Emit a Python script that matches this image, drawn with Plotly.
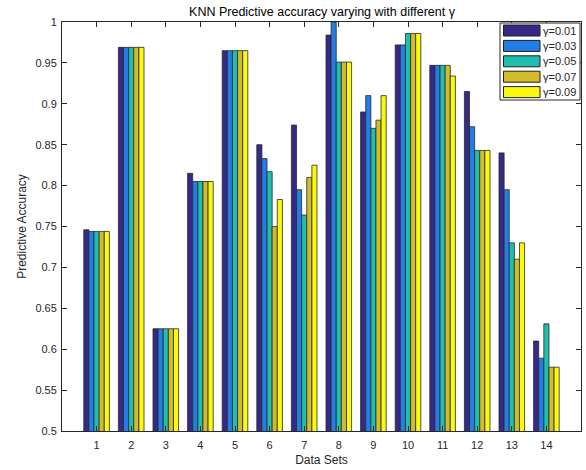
import plotly.graph_objects as go

datasets = [1, 2, 3, 4, 5, 6, 7, 8, 9, 10, 11, 12, 13, 14]
series_names = ["γ=0.01", "γ=0.03", "γ=0.05", "γ=0.07", "γ=0.09"]
acc_001 = [0.746, 0.969, 0.625, 0.815, 0.965, 0.850, 0.874, 0.984, 0.890, 0.972, 0.947, 0.915, 0.840, 0.610]
acc_003 = [0.744, 0.969, 0.625, 0.805, 0.965, 0.833, 0.795, 1.000, 0.910, 0.972, 0.947, 0.872, 0.795, 0.589]
acc_005 = [0.744, 0.969, 0.625, 0.805, 0.965, 0.817, 0.764, 0.951, 0.870, 0.986, 0.947, 0.843, 0.730, 0.631]
acc_007 = [0.744, 0.969, 0.625, 0.805, 0.965, 0.750, 0.810, 0.951, 0.880, 0.986, 0.947, 0.843, 0.710, 0.578]
acc_009 = [0.744, 0.969, 0.625, 0.805, 0.965, 0.783, 0.825, 0.951, 0.910, 0.986, 0.934, 0.843, 0.730, 0.578]
series_values = [acc_001, acc_003, acc_005, acc_007, acc_009]
colors = ["rgb(53,42,135)", "rgb(36,126,232)", "rgb(32,190,175)", "rgb(210,188,42)", "rgb(250,250,15)"]

y_ticks = [0.5, 0.55, 0.6, 0.65, 0.7, 0.75, 0.8, 0.85, 0.9, 0.95, 1.0]
y_ticktext = ["0.5", "0.55", "0.6", "0.65", "0.7", "0.75", "0.8", "0.85", "0.9", "0.95", "1"]

W, H = 586, 470
L, R, T, B = 62, 5, 22, 39
pw, ph = W - L - R, H - T - B
FONT = "Liberation Sans, Arial, sans-serif"
TXT = "rgb(38,38,38)"

fig = go.Figure()
for name, vals, c in zip(series_names, series_values, colors):
    fig.add_trace(go.Bar(x=datasets, y=vals, name=name, marker=dict(color=c, line=dict(color="rgb(40,40,40)", width=0.8)),
                         showlegend=False))

def px_x(px):
    return (px - L) / pw

def px_y(py):
    return (H - B - py) / ph

shapes = []
annotations = []
# legend box
shapes.append(dict(type="rect", xref="paper", yref="paper", x0=px_x(500), x1=px_x(580), y0=px_y(100), y1=px_y(23),
                   line=dict(color="rgb(38,38,38)", width=1), fillcolor="white", layer="above"))
for i, (name, c) in enumerate(zip(series_names, colors)):
    cy = 30.5 + i * 15.4
    shapes.append(dict(type="rect", xref="paper", yref="paper", x0=px_x(503.5), x1=px_x(540), y0=px_y(cy + 5.5), y1=px_y(cy - 5.5),
                       line=dict(color="rgb(30,30,30)", width=1), fillcolor=c, layer="above"))
    annotations.append(dict(text=name, xref="paper", yref="paper", x=px_x(541), y=px_y(cy), xanchor="left", yanchor="middle",
                            showarrow=False, font=dict(size=11, family=FONT, color=TXT)))

fig.update_layout(
    width=W, height=H,
    margin=dict(l=L, r=R, t=T, b=B),
    paper_bgcolor="white", plot_bgcolor="white",
    barmode="group", bargap=0.26, bargroupgap=0,
    font=dict(family=FONT, size=11, color=TXT),
    title=dict(text="KNN Predictive accuracy varying with different γ", x=(322 - 0) / W, xanchor="center",
               y=1 - 12 / H, yanchor="middle", font=dict(size=12.5, family=FONT, color="rgb(0,0,0)")),
    xaxis=dict(range=[0, 15], tickvals=datasets, ticktext=[str(d) for d in datasets], ticks="inside", ticklen=5,
               tickcolor=TXT, showline=True, linecolor=TXT, linewidth=1, mirror="ticks", showgrid=False, zeroline=False,
               ticklabelstandoff=4,
               title=dict(text="Data Sets", font=dict(size=12), standoff=5)),
    yaxis=dict(range=[0.5, 1.0], tickvals=y_ticks, ticktext=y_ticktext, ticks="inside", ticklen=5,
               tickcolor=TXT, showline=True, linecolor=TXT, linewidth=1, mirror="ticks", showgrid=False, zeroline=False,
               ticklabelstandoff=2,
               title=dict(text="Predictive Accuracy", font=dict(size=12), standoff=6)),
    shapes=shapes, annotations=annotations,
)
fig.write_html("out.html")
